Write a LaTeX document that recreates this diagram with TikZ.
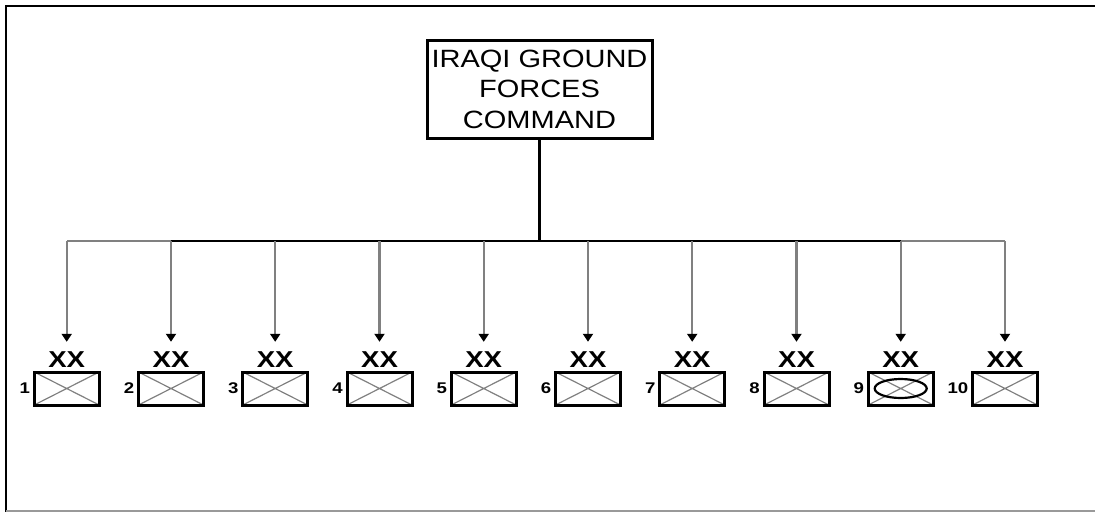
\documentclass[tikz,border=0pt]{standalone}
\usepackage{fontspec}
\setmainfont{Liberation Sans}
\newfontfamily\cmdfont[FakeStretch=1.16]{Liberation Sans}
\newfontfamily\echfont[FakeStretch=1.2]{Liberation Sans}
\usetikzlibrary{arrows.meta}

\tikzset{
  frame/.style={line width=2.5pt},
  cmdbox/.style={draw, line width=3pt, minimum width=225pt, minimum height=98pt,
    align=center, inner sep=0pt, font={\cmdfont\fontsize{25}{30.5}\selectfont}},
  divbox/.style={draw, line width=3pt, minimum width=65pt, minimum height=33pt, inner sep=0pt,
    path picture={\draw[gray, line width=1.2pt]
      (path picture bounding box.north west) -- (path picture bounding box.south east)
      (path picture bounding box.south west) -- (path picture bounding box.north east);}},
  hqmark/.style={path picture={\draw[gray, line width=1.2pt]
      (path picture bounding box.north west) -- (path picture bounding box.south east)
      (path picture bounding box.south west) -- (path picture bounding box.north east);
      \draw[line width=2.2pt] (path picture bounding box.center) ellipse (26 and 9.5);}},
  xxlab/.style={font={\echfont\bfseries\fontsize{23}{23}\selectfont}, inner sep=0pt, yshift=2.5pt},
  numlab/.style={font={\echfont\bfseries\fontsize{15.5}{15.5}\selectfont}, inner sep=0pt, xshift=-2.5pt},
  trunk/.style={line width=2.5pt},
  feed/.style={line width=2.2pt, color=black!50, -{Triangle[width=10pt,length=8pt,color=black]}},
  feedline/.style={line width=2.2pt, color=black!50}
}

\begin{document}
\begin{tikzpicture}[x=1pt, y=-1pt]
    \useasboundingbox (0,0) rectangle (1095,512);
    \draw [frame]               (1095,6) -- (6,6) -- (6,512);
    \draw [black!40, line width=1.2pt] (6,511) -- (1095,511);

    \node [cmdbox] (cmd) at (539.5,89) {IRAQI GROUND\\FORCES\\COMMAND};
    \coordinate (bus) at (539.5,241);

    \node [divbox, label={[xxlab,name=x1]above:XX},  label={[numlab]left:1}]  (d1)  at (66.7,388.5)  {};
    \node [divbox, label={[xxlab,name=x2]above:XX},  label={[numlab]left:2}]  (d2)  at (171,388.5)   {};
    \node [divbox, label={[xxlab,name=x3]above:XX},  label={[numlab]left:3}]  (d3)  at (275.2,388.5) {};
    \node [divbox, label={[xxlab,name=x4]above:XX},  label={[numlab]left:4}]  (d4)  at (379.5,388.5) {};
    \node [divbox, label={[xxlab,name=x5]above:XX},  label={[numlab]left:5}]  (d5)  at (483.7,388.5) {};
    \node [divbox, label={[xxlab,name=x6]above:XX},  label={[numlab]left:6}]  (d6)  at (588,388.5)   {};
    \node [divbox, label={[xxlab,name=x7]above:XX},  label={[numlab]left:7}]  (d7)  at (692.2,388.5) {};
    \node [divbox, label={[xxlab,name=x8]above:XX},  label={[numlab]left:8}]  (d8)  at (796.5,388.5) {};
    \node [divbox, hqmark, label={[xxlab,name=x9]above:XX},  label={[numlab]left:9}]  (d9)  at (900.7,388.5) {};
    \node [divbox, label={[xxlab,name=x10]above:XX}, label={[numlab]left:10}] (d10) at (1005,388.5)  {};

    \draw [trunk]    (cmd.south) -- (bus);
    \draw [trunk]    (x2 |- bus) -- (x9 |- bus);
    \draw [feedline] (x2 |- bus) -- (x1 |- bus);
    \draw [feedline] (x9 |- bus) -- (x10 |- bus);

    \draw [feed, shorten >=10pt] (x1 |- bus)  -- (x1.north);
    \draw [feed, shorten >=10pt] (x2 |- bus)  -- (x2.north);
    \draw [feed, shorten >=10pt] (x3 |- bus)  -- (x3.north);
    \draw [feed, shorten >=10pt] (x4 |- bus)  -- (x4.north);
    \draw [feed, shorten >=10pt] (x5 |- bus)  -- (x5.north);
    \draw [feed, shorten >=10pt] (x6 |- bus)  -- (x6.north);
    \draw [feed, shorten >=10pt] (x7 |- bus)  -- (x7.north);
    \draw [feed, shorten >=10pt] (x8 |- bus)  -- (x8.north);
    \draw [feed, shorten >=10pt] (x9 |- bus)  -- (x9.north);
    \draw [feed, shorten >=10pt] (x10 |- bus) -- (x10.north);
  \end{tikzpicture}
\end{document}
